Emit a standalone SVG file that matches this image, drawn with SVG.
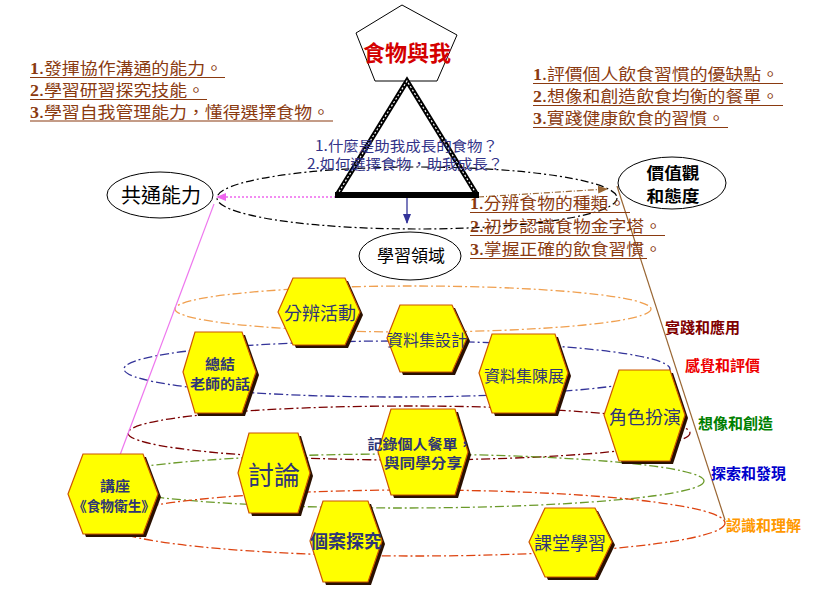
<svg xmlns="http://www.w3.org/2000/svg" width="813" height="610" viewBox="0 0 813 610">
<defs>
<style>
.cjk{font-family:"Noto Sans CJK TC","Noto Sans CJK SC",sans-serif}
.obj{font-family:"Noto Sans CJK TC",sans-serif;font-size:16px;fill:#8a3a10}
.num{font-family:"Liberation Serif",serif;font-weight:bold}
.ul{stroke:#8a3a10;stroke-width:1.2}
.hex{fill:#ffff00;stroke:#cc5500;stroke-width:1.2}
.sh{fill:#2a1000}
.ht{font-family:"Noto Sans CJK TC",sans-serif;fill:#2e3577;text-anchor:middle}
.lay{fill:none;stroke-width:1.3;stroke-dasharray:9 3 2 3}
.lbl{font-family:"Noto Sans CJK TC",sans-serif;font-size:15px;font-weight:bold}
.el{fill:#fff;stroke:#000;stroke-width:1}
</style>
<marker id="mPink" markerWidth="10" markerHeight="10" refX="9" refY="5" orient="auto" markerUnits="userSpaceOnUse"><path d="M0,1 L10,5 L0,9 z" fill="#ee66ee"/></marker>
<marker id="mBrown" markerWidth="10" markerHeight="10" refX="9" refY="5" orient="auto" markerUnits="userSpaceOnUse"><path d="M0,1 L10,5 L0,9 z" fill="#996633"/></marker>
<marker id="mNavy" markerWidth="10" markerHeight="10" refX="9" refY="5" orient="auto" markerUnits="userSpaceOnUse"><path d="M0,1 L10,5 L0,9 z" fill="#333399"/></marker>
</defs>
<rect width="813" height="610" fill="#fff"/>

<g id="layers">
<ellipse class="lay" cx="413" cy="309" rx="238" ry="23" stroke="#f0a050"/>
<ellipse class="lay" cx="397" cy="369" rx="273" ry="28" stroke="#333399"/>
<ellipse class="lay" cx="409" cy="433" rx="281" ry="27" stroke="#7a0000"/>
<ellipse class="lay" cx="400" cy="481" rx="304" ry="27" stroke="#6b9a2a"/>
<ellipse class="lay" cx="415" cy="523" rx="310" ry="33" stroke="#dd4411"/>
</g>

<ellipse cx="417" cy="198" rx="200" ry="31" fill="none" stroke="#000" stroke-width="1.2" stroke-dasharray="8 3 2 3"/>

<g id="connectors">
<line x1="336" y1="197" x2="217" y2="197" stroke="#ee66ee" stroke-width="1.5" stroke-dasharray="2 2" marker-end="url(#mPink)"/>
<line x1="214" y1="204" x2="120" y2="455" stroke="#ee77ee" stroke-width="1.2"/>
<line x1="478" y1="197" x2="607" y2="189" stroke="#996633" stroke-width="1.2" stroke-dasharray="6 2 1 2" marker-end="url(#mBrown)"/>
<line x1="617" y1="186" x2="725" y2="520" stroke="#996633" stroke-width="1.2"/>
<line x1="407" y1="198" x2="407" y2="223" stroke="#333399" stroke-width="1.3" marker-end="url(#mNavy)"/>
</g>

<g id="node-title">
<polygon points="402,5 457,35 437,81 375,81 356,33" fill="#fff" stroke="#000" stroke-width="1"/>
<text x="407" y="61" class="cjk" font-size="22" font-weight="bold" fill="#d40000" text-anchor="middle">食物與我</text>
</g>

<g id="node-triangle">
<polyline points="337,195 407,81 477,195" fill="none" stroke="#000" stroke-width="5" stroke-linejoin="miter"/>
<polyline points="337,195 407,81 477,195" fill="none" stroke="#fff" stroke-width="1.2" stroke-dasharray="2 2"/>
<line x1="335" y1="195" x2="479" y2="195" stroke="#000" stroke-width="6"/>
</g>

<g id="questions">
<text x="315" y="151" class="cjk" font-size="14" fill="#333388" textLength="183" lengthAdjust="spacingAndGlyphs">1.什麼是助我成長的食物？</text>
<text x="307" y="169" class="cjk" font-size="14" fill="#333388" textLength="196" lengthAdjust="spacingAndGlyphs">2.如何選擇食物，助我成長？</text>
</g>

<g id="node-common">
<ellipse class="el" cx="160" cy="195" rx="53" ry="23"/>
<text x="161" y="203" class="cjk" font-size="20" text-anchor="middle" fill="#000">共通能力</text>
</g>
<g id="node-values">
<ellipse class="el" cx="672" cy="183" rx="54" ry="26"/>
<text x="673" y="179" class="cjk" font-size="16" font-weight="bold" text-anchor="middle" fill="#000" textLength="53" lengthAdjust="spacingAndGlyphs">價值觀</text>
<text x="673" y="202" class="cjk" font-size="16" font-weight="bold" text-anchor="middle" fill="#000" textLength="53" lengthAdjust="spacingAndGlyphs">和態度</text>
</g>
<g id="node-domain">
<ellipse class="el" cx="410" cy="256" rx="51" ry="24"/>
<text x="411" y="262" class="cjk" font-size="17" text-anchor="middle" fill="#000">學習領域</text>
</g>

<g id="obj-left">
<text x="30" y="74" class="obj" textLength="193" lengthAdjust="spacingAndGlyphs"><tspan class="num">1</tspan>.發揮協作溝通的能力。</text>
<text x="30" y="96" class="obj" textLength="175" lengthAdjust="spacingAndGlyphs"><tspan class="num">2</tspan>.學習研習探究技能。</text>
<text x="30" y="118" class="obj" textLength="300" lengthAdjust="spacingAndGlyphs"><tspan class="num">3</tspan>.學習自我管理能力，懂得選擇食物。</text>
<line class="ul" x1="30" y1="77.5" x2="225" y2="77.5"/>
<line class="ul" x1="30" y1="99.5" x2="207" y2="99.5"/>
<line class="ul" x1="30" y1="121" x2="333" y2="121"/>
</g>
<g id="obj-right">
<text x="533" y="80" class="obj" textLength="246" lengthAdjust="spacingAndGlyphs"><tspan class="num">1</tspan>.評價個人飲食習慣的優缺點。</text>
<text x="533" y="102" class="obj" textLength="246" lengthAdjust="spacingAndGlyphs"><tspan class="num">2</tspan>.想像和創造飲食均衡的餐單。</text>
<text x="533" y="124" class="obj" textLength="192" lengthAdjust="spacingAndGlyphs"><tspan class="num">3</tspan>.實踐健康飲食的習慣。</text>
<line class="ul" x1="533" y1="83.5" x2="783" y2="83.5"/>
<line class="ul" x1="533" y1="105.5" x2="783" y2="105.5"/>
<line class="ul" x1="533" y1="127.5" x2="728" y2="127.5"/>
</g>
<g id="obj-mid">
<text x="470" y="209" class="obj" textLength="156" lengthAdjust="spacingAndGlyphs"><tspan class="num">1</tspan>.分辨食物的種類。</text>
<text x="470" y="232" class="obj" textLength="192" lengthAdjust="spacingAndGlyphs"><tspan class="num">2</tspan>.初步認識食物金字塔。</text>
<text x="470" y="255" class="obj" textLength="192" lengthAdjust="spacingAndGlyphs"><tspan class="num">3</tspan>.掌握正確的飲食習慣。</text>
<line class="ul" x1="470" y1="212.5" x2="630" y2="212.5"/>
<line class="ul" x1="470" y1="235.5" x2="665" y2="235.5"/>
<line class="ul" x1="470" y1="258.5" x2="647" y2="258.5"/>
</g>

<g id="layer-labels">
<text x="665" y="333" class="lbl" fill="#800000">實踐和應用</text>
<text x="685" y="371" class="lbl" fill="#ee0000">感覺和評價</text>
<text x="698" y="429" class="lbl" fill="#008000">想像和創造</text>
<text x="711" y="479" class="lbl" fill="#0000cc">探索和發現</text>
<text x="726" y="531" class="lbl" fill="#ff9900">認識和理解</text>
</g>

<g id="hex-fenbian">
<polygon class="sh" transform="translate(3,3)" points="278,312 293,278 345,278 360,312 345,345 293,345"/>
<polygon class="hex" points="278,312 293,278 345,278 360,312 345,345 293,345"/>
<text class="ht" x="320" y="320" font-size="18">分辨活動</text>
</g>
<g id="hex-design">
<polygon class="sh" transform="translate(3,3)" points="387,338 400,305 452,305 467,338 452,372 400,372"/>
<polygon class="hex" points="387,338 400,305 452,305 467,338 452,372 400,372"/>
<text class="ht" x="427" y="346" font-size="16" textLength="80" lengthAdjust="spacingAndGlyphs">資料集設計</text>
</g>
<g id="hex-summary">
<polygon class="sh" transform="translate(3,3)" points="183,372 195,332 242,332 256,372 242,413 195,413"/>
<polygon class="hex" points="183,372 195,332 242,332 256,372 242,413 195,413"/>
<text class="ht" x="220" y="369" font-size="14" font-weight="bold" textLength="30" lengthAdjust="spacingAndGlyphs">總結</text>
<text class="ht" x="220" y="389" font-size="14" font-weight="bold" textLength="60" lengthAdjust="spacingAndGlyphs">老師的話</text>
</g>
<g id="hex-exhibit">
<polygon class="sh" transform="translate(3,3)" points="479,373 492,334 555,334 568,373 555,413 492,413"/>
<polygon class="hex" points="479,373 492,334 555,334 568,373 555,413 492,413"/>
<text class="ht" x="524" y="382" font-size="16">資料集陳展</text>
</g>
<g id="hex-roleplay">
<polygon class="sh" transform="translate(3,3)" points="604,415 619,370 670,370 685,415 670,461 619,461"/>
<polygon class="hex" points="604,415 619,370 670,370 685,415 670,461 619,461"/>
<text class="ht" x="645" y="424" font-size="18">角色扮演</text>
</g>
<g id="hex-record">
<polygon class="sh" transform="translate(3,3)" points="378,452 391,409 455,409 468,452 455,495 391,495"/>
<polygon class="hex" points="378,452 391,409 455,409 468,452 455,495 391,495"/>
<text class="ht" x="420" y="449" font-size="14" font-weight="bold" textLength="105" lengthAdjust="spacingAndGlyphs">記錄個人餐單，</text>
<text class="ht" x="423" y="468" font-size="14" font-weight="bold" textLength="78" lengthAdjust="spacingAndGlyphs">與同學分享</text>
</g>
<g id="hex-discuss">
<polygon class="sh" transform="translate(3,3)" points="238,473 249,433 298,433 310,473 298,513 249,513"/>
<polygon class="hex" points="238,473 249,433 298,433 310,473 298,513 249,513"/>
<text class="ht" x="274" y="485" font-size="26">討論</text>
</g>
<g id="hex-lecture">
<polygon class="sh" transform="translate(3,3)" points="68,494 83,454 143,454 158,494 143,534 83,534"/>
<polygon class="hex" points="68,494 83,454 143,454 158,494 143,534 83,534"/>
<text class="ht" x="115" y="491" font-size="14" font-weight="bold" textLength="30" lengthAdjust="spacingAndGlyphs">講座</text>
<text class="ht" x="114" y="511" font-size="14" font-weight="bold" textLength="82" lengthAdjust="spacingAndGlyphs">《食物衛生》</text>
</g>
<g id="hex-case">
<polygon class="sh" transform="translate(3,3)" points="310,541 323,501 368,501 382,541 368,582 323,582"/>
<polygon class="hex" points="310,541 323,501 368,501 382,541 368,582 323,582"/>
<text class="ht" x="346" y="548" font-size="18" font-weight="bold">個案探究</text>
</g>
<g id="hex-class">
<polygon class="sh" transform="translate(3,3)" points="529,542 545,508 595,508 612,542 595,577 545,577"/>
<polygon class="hex" points="529,542 545,508 595,508 612,542 595,577 545,577"/>
<text class="ht" x="570" y="550" font-size="18">課堂學習</text>
</g>
</svg>
